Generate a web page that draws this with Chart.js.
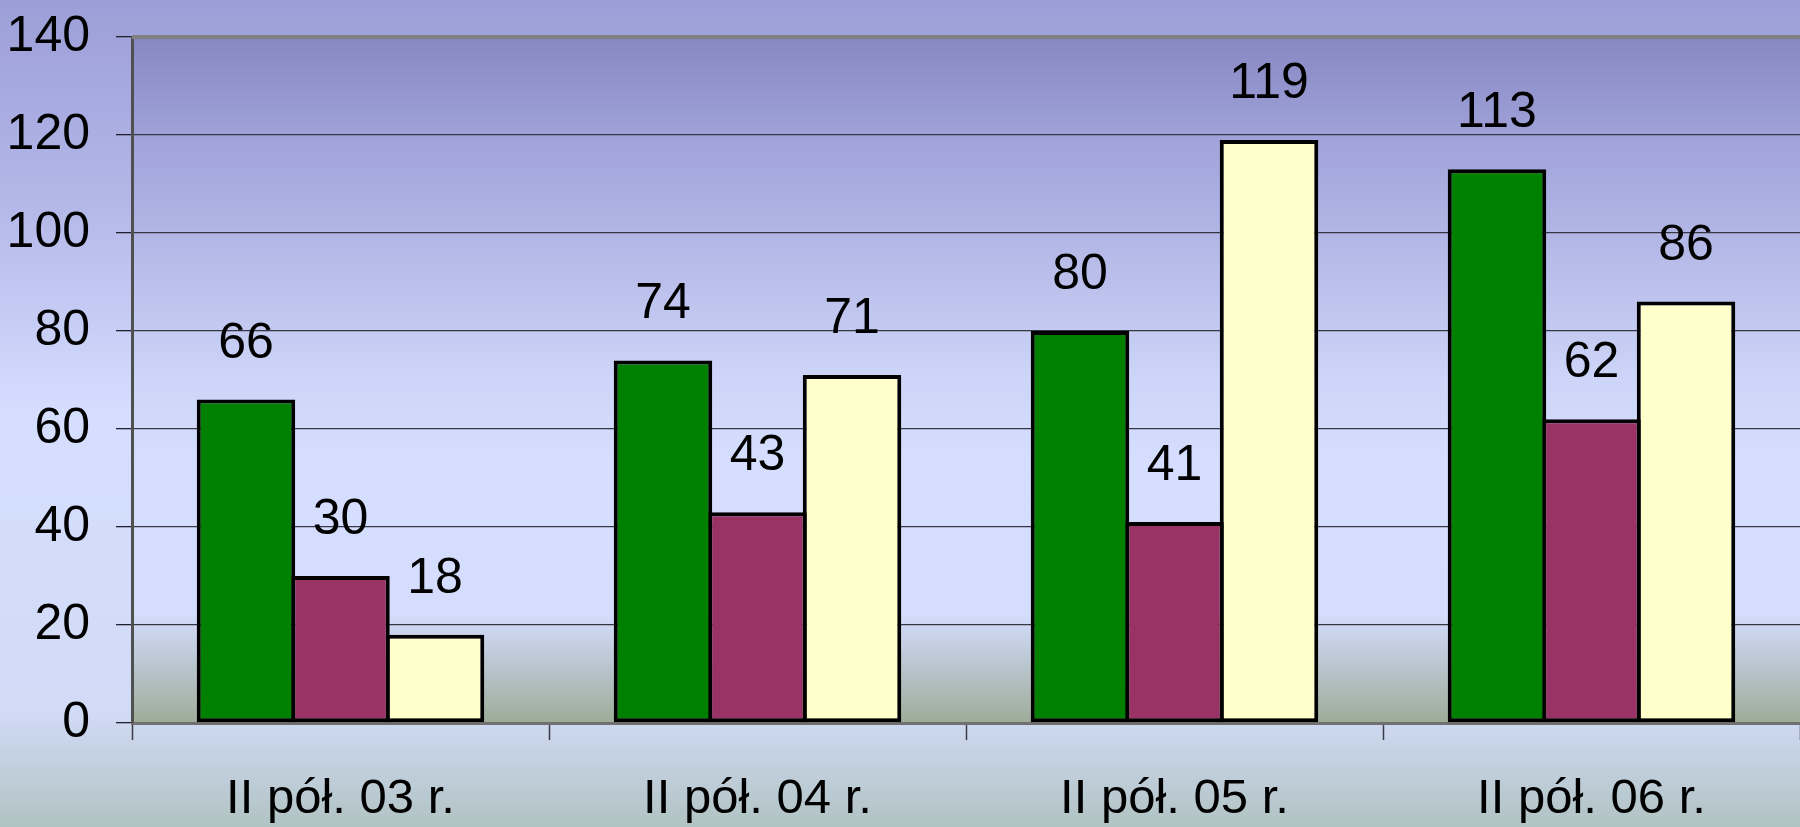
<!DOCTYPE html>
<html>
<head>
<meta charset="utf-8">
<script src="https://cdn.jsdelivr.net/npm/chart.js@4/dist/chart.umd.min.js"></script>
<style>
  html, body { margin: 0; padding: 0; overflow: hidden; background: #a0a0d8; }
  canvas { display: block; }
</style>
</head>
<body>
<canvas id="c" width="1800" height="827"></canvas>
<script>
const categories = ['II pół. 03 r.', 'II pół. 04 r.', 'II pół. 05 r.', 'II pół. 06 r.'];
const seriesGreen = [66, 74, 80, 113];
const seriesMagenta = [30, 43, 41, 62];
const seriesYellow = [18, 71, 119, 86];
const yTicks = [0, 20, 40, 60, 80, 100, 120, 140];

const FONT = 'Liberation Sans, Arial, sans-serif';

const bgPlugin = {
  id: 'bg',
  beforeDraw(chart) {
    const ctx = chart.ctx, W = chart.width, H = chart.height, a = chart.chartArea;
    ctx.save();
    let g = ctx.createLinearGradient(0, 0, 0, H);
    g.addColorStop(0, '#9c9ed7');
    g.addColorStop(0.25, '#b4b8e8');
    g.addColorStop(0.5, '#d5deff');
    g.addColorStop(0.86, '#d1dbf6');
    g.addColorStop(1, '#b1c3c3');
    ctx.fillStyle = g;
    ctx.fillRect(0, 0, W, H);
    g = ctx.createLinearGradient(0, a.top, 0, a.bottom);
    g.addColorStop(0, '#8788c3');
    g.addColorStop(0.15, '#a0a2d9');
    g.addColorStop(0.5, '#cdd5f8');
    g.addColorStop(0.62, '#d5defe');
    g.addColorStop(0.84, '#d4ddfd');
    g.addColorStop(0.88, '#c6d1e6');
    g.addColorStop(1, '#9dac98');
    ctx.fillStyle = g;
    ctx.fillRect(a.left, a.top, a.right - a.left, a.bottom - a.top);
    ctx.restore();
  },
  afterDraw(chart) {
    const ctx = chart.ctx, a = chart.chartArea;
    ctx.save();
    ctx.strokeStyle = '#808080';
    ctx.lineWidth = 4;
    ctx.beginPath();
    ctx.moveTo(a.left, a.top);
    ctx.lineTo(a.right, a.top);
    ctx.stroke();
    ctx.restore();
  }
};

const labelPlugin = {
  id: 'valueLabels',
  afterDatasetsDraw(chart) {
    const ctx = chart.ctx;
    ctx.save();
    ctx.font = '50px ' + FONT;
    ctx.fillStyle = '#000';
    ctx.textAlign = 'center';
    ctx.textBaseline = 'alphabetic';
    chart.data.datasets.forEach((ds, i) => {
      const meta = chart.getDatasetMeta(i);
      meta.data.forEach((el, j) => {
        ctx.fillText(String(ds.data[j]), el.x, el.y - 42);
      });
    });
    ctx.restore();
  }
};

const barCommon = {
  borderColor: '#000000',
  borderWidth: 4,
  borderSkipped: false,
  categoryPercentage: 0.68,
  barPercentage: 1.042
};

new Chart(document.getElementById('c'), {
  type: 'bar',
  data: {
    labels: categories,
    datasets: [
      Object.assign({ label: 'Seria 1', data: seriesGreen, backgroundColor: '#008000' }, barCommon),
      Object.assign({ label: 'Seria 2', data: seriesMagenta, backgroundColor: '#993366' }, barCommon),
      Object.assign({ label: 'Seria 3', data: seriesYellow, backgroundColor: '#ffffcc' }, barCommon)
    ]
  },
  options: {
    responsive: false,
    animation: false,
    layout: { padding: { top: 37, left: 0, right: 0, bottom: 0 } },
    plugins: { legend: { display: false }, tooltip: { enabled: false } },
    scales: {
      x: {
        offset: true,
        grid: {
          display: true,
          offset: true,
          drawOnChartArea: false,
          drawTicks: true,
          tickLength: 17,
          tickColor: '#3a3a4a',
          tickWidth: 1.5
        },
        border: { display: true, color: '#707070', width: 3 },
        ticks: {
          color: '#000',
          font: { family: FONT, size: 49 },
          padding: 30,
          maxRotation: 0,
          autoSkip: false
        },
        afterFit(scale) { scale.height = 104; scale.paddingLeft = 0; scale.paddingRight = 0; }
      },
      y: {
        min: 0,
        max: 140,
        afterBuildTicks(scale) { scale.ticks = yTicks.map(v => ({ value: v })); },
        grid: {
          color: '#363645',
          lineWidth: 1.3,
          drawTicks: true,
          tickLength: 16,
          tickColor: '#202030',
          tickWidth: 1.3
        },
        border: { display: true, color: '#505050', width: 3 },
        ticks: {
          color: '#000',
          font: { family: FONT, size: 50 },
          padding: 26
        },
        afterFit(scale) { scale.width = 132; scale.paddingTop = 0; scale.paddingBottom = 0; }
      }
    }
  },
  plugins: [bgPlugin, labelPlugin]
});
</script>
</body>
</html>
